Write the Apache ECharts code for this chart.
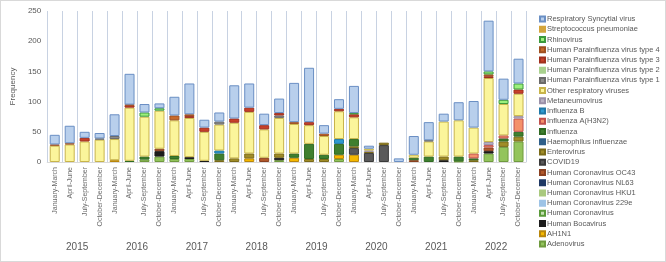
<!DOCTYPE html>
<html>
<head>
<meta charset="utf-8">
<script src="https://cdn.jsdelivr.net/npm/echarts@6/dist/echarts.min.js"></script>
<style>
  html, body { margin: 0; padding: 0; background: #fff; }
  #chart { width: 666px; height: 262px; box-sizing: border-box; border: 1px solid #d9d9d9; }
</style>
</head>
<body>
<div id="chart"></div>
<script>
// quarters x years
const years = ["2015", "2016", "2017", "2018", "2019", "2020", "2021", "2022"];
const quarters = ["January-March", "April-June", "July-September", "October-December"];

// series values, one per quarter (32)
const adenovirus = [0,0,0,0,0,0,4,9,5,5,0,0,0,0,0,3,0,0,0,5,0,0,0,0,0,0,0,1,0,14,25,34];
const ah1n1 = [0,0,0,0,3,0,0,0,0,0,0,0,0,6,0,0,7,0,0,7,12,0,0,0,0,0,0,0,0,0,0,0];
const bocavirus = [0,0,0,0,0,0,0,9,0,3,2,0,0,0,0,4,0,0,0,0,0,0,0,0,0,0,3,0,0,4,0,0];
const coronavirus = [0,0,0,0,0,0,0,0,0,0,0,0,0,0,0,0,0,0,0,0,0,0,0,0,0,0,0,0,0,0,0,0];
const cov229e = [0,0,0,0,0,0,0,0,0,0,0,0,0,0,0,0,0,0,0,0,0,0,0,0,0,0,0,0,0,0,0,0];
const covHKU1 = [0,0,0,0,0,0,0,0,0,0,0,0,0,0,0,0,0,0,0,0,0,0,0,0,0,0,0,0,0,0,0,0];
const covNL63 = [0,0,0,0,0,0,0,0,0,0,0,0,0,0,0,0,0,0,0,0,0,0,0,0,0,0,0,0,0,0,0,0];
const covOC43 = [0,0,0,0,0,0,0,4,0,0,0,0,0,0,7,0,0,0,0,0,0,0,0,0,3,0,0,0,0,6,0,0];
const covid19 = [0,0,0,0,0,0,0,0,0,0,0,0,0,0,0,0,0,0,0,0,11,15,28,0,0,0,0,0,0,0,0,0];
const enterovirus = [0,0,0,0,0,0,0,0,0,0,0,3,6,8,0,7,0,5,5,0,3,2,4,0,0,0,6,0,3,0,9,8];
const haemophilus = [0,0,0,0,0,0,0,0,0,0,0,0,0,0,0,0,0,0,0,0,0,0,0,0,0,0,0,0,0,0,0,0];
const influenza = [0,0,0,0,0,2,5,0,5,0,0,11,0,0,0,0,7,25,7,18,12,0,0,0,4,9,0,8,3,0,5,8];
const fluH3N2 = [0,0,0,0,0,0,0,0,0,0,0,0,0,0,0,0,0,0,0,0,0,0,0,0,0,0,0,0,8,4,5,22];
const fluB = [0,0,0,0,0,0,0,0,0,0,0,5,0,0,0,0,0,0,0,8,0,0,0,0,0,0,0,0,0,0,0,0];
const metapneumo = [0,0,0,0,0,0,0,0,0,0,0,0,0,0,0,0,0,0,0,0,0,2,0,0,0,0,0,0,0,5,0,4];
const otherResp = [27,29,34,37,35,88,66,63,59,65,48,43,59,69,47,59,49,31,31,46,36,3,0,0,5,25,58,60,43,106,52,37];
const hpiv1 = [0,0,0,2,5,0,0,0,0,0,0,5,0,0,0,4,0,0,0,0,0,0,0,0,0,2,0,0,0,0,0,0];
const hpiv2 = [0,0,0,0,0,0,0,0,0,0,0,0,0,0,0,0,0,0,0,0,0,0,0,0,0,0,0,0,0,0,0,0];
const hpiv3 = [0,0,6,0,0,4,0,0,0,3,7,0,7,7,7,4,0,5,0,4,5,0,0,0,0,0,0,0,0,3,0,7];
const hpiv4 = [2,2,0,0,0,1,0,0,8,3,0,0,0,0,0,0,3,0,4,0,0,0,0,0,0,0,0,0,0,3,0,0];
const rhinovirus = [0,0,0,0,0,0,7,4,0,0,0,0,0,0,0,0,0,0,0,0,2,0,0,0,0,0,0,0,0,5,7,10];
const streptococcus = [0,0,0,0,0,0,0,0,0,0,0,0,0,0,0,0,0,0,0,0,0,0,0,0,0,0,0,0,0,0,0,0];
const rsv = [16,29,10,9,36,51,14,8,31,51,13,15,55,40,19,24,65,90,14,16,45,5,0,6,31,30,13,30,44,84,35,41];

const categories = [];
years.forEach(() => quarters.forEach(q => categories.push(q)));

// bottom -> top of the stack
const stackDefs = [
  ["Adenovirus", adenovirus, "#93c45c", "#6f9a3e"],
  ["AH1N1", ah1n1, "#f5b800", "#b8860b"],
  ["Human Bocavirus", bocavirus, "#1c1c1c", "#1c1c1c"],
  ["Human Coronavirus", coronavirus, "#c5e0b4", "#5a9a3a"],
  ["Human Coronavirus 229e", cov229e, "#9dc3e6", "#9dc3e6"],
  ["Human Coronavirus HKU1", covHKU1, "#a9c97e", "#a9c97e"],
  ["Human Coronavirus NL63", covNL63, "#1f3864", "#1f3864"],
  ["Human Coronavirus OC43", covOC43, "#b0582a", "#8a4020"],
  ["COVID19", covid19, "#5a5a5a", "#3a3a3a"],
  ["Enterovirus", enterovirus, "#a08c28", "#7a6a18"],
  ["Haemophilus influenzae", haemophilus, "#2f5f8a", "#2f5f8a"],
  ["Influenza", influenza, "#3f7f2f", "#2f6a22"],
  ["Influenza A(H3N2)", fluH3N2, "#f4916b", "#c0504d"],
  ["Influenza B", fluB, "#2e9ad0", "#1f78a8"],
  ["Metaneumovirus", metapneumo, "#b9b2c4", "#9a90a8"],
  ["Other respiratory viruses", otherResp, "#fbf59b", "#c8b44a"],
  ["Human Parainfluenza virus type 1", hpiv1, "#8c8c8c", "#6a6a6a"],
  ["Human Parainfluenza virus type 2", hpiv2, "#a9d18e", "#a9d18e"],
  ["Human Parainfluenza virus type 3", hpiv3, "#c8402a", "#a0301e"],
  ["Human Parainfluenza virus type 4", hpiv4, "#c86a2c", "#a05020"],
  ["Rhinovirus", rhinovirus, "#9cf07c", "#3c9a3c"],
  ["Streptococcus pneumoniae", streptococcus, "#d4a53c", "#d4a53c"],
  ["Respiratory Syncytial virus", rsv, "#b8cfec", "#6a8fc4"]
];

const series = stackDefs.map(([name, values, color, border]) => ({
  name: name,
  type: "bar",
  stack: "total",
  barWidth: 10,
  xAxisIndex: 0,
  data: values.map(v => (v ? v : null)),
  itemStyle: { color: color, borderColor: border, borderWidth: 1 },
  emphasis: { disabled: true }
}));

const chart = echarts.init(document.getElementById("chart"));
const option = {
  animation: false,
  textStyle: { fontFamily: "Liberation Sans, Arial, sans-serif" },
  grid: { left: 46, right: 139, top: 10, bottom: 99 },
  legend: {
    orient: "vertical",
    left: 538,
    top: 14,
    padding: 0,
    itemWidth: 5,
    itemHeight: 5,
    itemGap: 2.23,
    icon: "rect",
    data: stackDefs.map(d => d[0]).reverse(),
    textStyle: { fontSize: 7.5, lineHeight: 8, color: "#595959", padding: [0, 0, 0, -3] }
  },
  xAxis: [
    {
      type: "category",
      data: categories,
      axisLine: { show: true, lineStyle: { color: "#d9d9d9" } },
      axisTick: { show: false },
      splitLine: { show: true, interval: 0, lineStyle: { color: "#c8d2e2", width: 1 } },
      axisLabel: { interval: 0, rotate: 90, fontSize: 7, color: "#6a6a6a", margin: 5 }
    },
    {
      type: "category",
      data: years,
      position: "bottom",
      offset: 72,
      axisLine: { show: false },
      axisTick: { show: false },
      axisLabel: { fontSize: 10, color: "#595959", margin: 8 }
    }
  ],
  yAxis: {
    type: "value",
    min: 0,
    max: 250,
    interval: 50,
    name: "Frequency",
    nameLocation: "middle",
    nameGap: 28,
    nameTextStyle: { fontSize: 8, color: "#595959" },
    axisLine: { show: false },
    axisTick: { show: false },
    splitLine: { show: false },
    axisLabel: { fontSize: 8, color: "#595959", margin: 6 }
  },
  series: series
};
chart.setOption(option);
</script>
</body>
</html>
